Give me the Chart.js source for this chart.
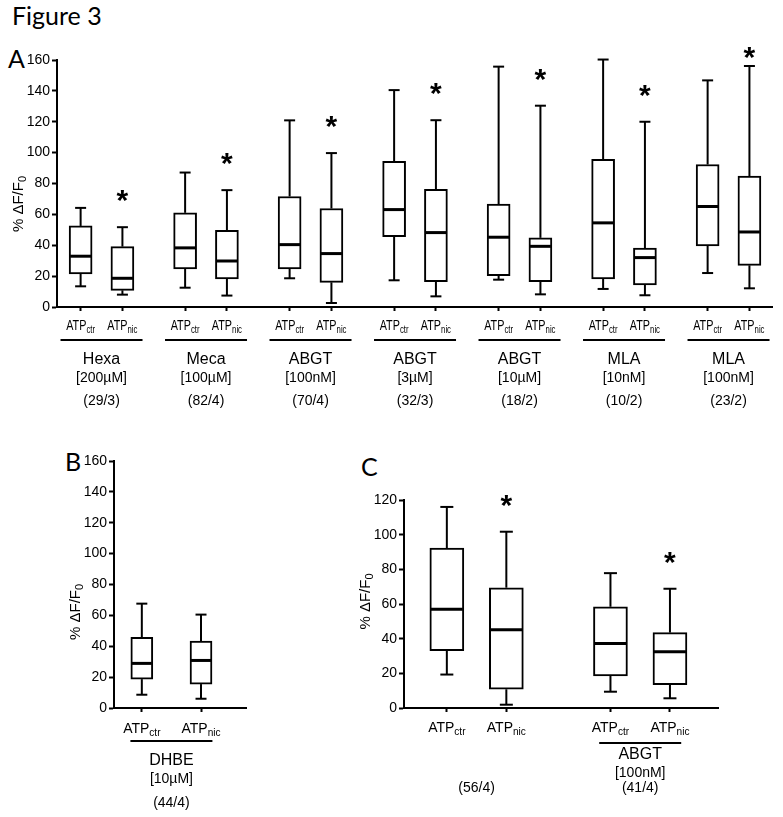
<!DOCTYPE html>
<html>
<head>
<meta charset="utf-8">
<script src="https://cdn.jsdelivr.net/npm/chart.js@4.4.1/dist/chart.umd.min.js"></script>
<style>
  body { margin: 0; background: #fff; width: 783px; height: 817px; position: relative; overflow: hidden; }
  canvas { position: absolute; }
  .lbl { position: absolute; font-family: Lato, 'Open Sans', sans-serif; font-size: 25px; line-height: 25px; color: #000; white-space: nowrap; }
</style>
</head>
<body>
<div class="lbl" style="left:12px;top:3px">Figure 3</div>
<div class="lbl" style="left:8px;top:46px">A</div>
<div class="lbl" style="left:65px;top:449px">B</div>
<div class="lbl" style="left:361px;top:454px">C</div>

<canvas id="chartA" width="783" height="380" style="left:0;top:40px"></canvas>
<canvas id="chartB" width="270" height="377" style="left:0;top:440px"></canvas>
<canvas id="chartC" width="443" height="377" style="left:340px;top:440px"></canvas>

<script>
'use strict';

const FONT = "'Liberation Sans', Arial, sans-serif";
const NARROW = "'Liberation Sans Narrow', 'Arial Narrow', 'Liberation Sans', Arial, sans-serif";

const conditions = ['ctr', 'nic'];

// box stats are [min, q1, median, q3, max] in % ΔF/F0

// --- panel A
const groupsA = ['Hexa', 'Meca', 'ABGT', 'ABGT', 'ABGT', 'MLA', 'MLA'];
const concA = ['[200µM]', '[100µM]', '[100nM]', '[3µM]', '[10µM]', '[10nM]', '[100nM]'];
const countsA = ['(29/3)', '(82/4)', '(70/4)', '(32/3)', '(18/2)', '(10/2)', '(23/2)'];
const ctrA = [
    [13.4, 21.4, 32.9, 52.5, 64.2],
    [12.5, 24.6, 38.3, 61.0, 87.1],
    [18.6, 24.6, 40.4, 71.6, 120.9],
    [17.3, 45.6, 63.1, 94.3, 140.5],
    [17.7, 20.3, 45.2, 66.6, 155.7],
    [11.7, 18.2, 54.5, 95.6, 160.3],
    [22.0, 39.6, 65.1, 92.3, 146.8],
];
const nicA = [
    [8.0, 10.8, 18.6, 39.1, 51.7],
    [7.4, 18.2, 29.8, 49.7, 75.7],
    [2.6, 16.0, 34.6, 63.8, 99.7],
    [6.9, 16.4, 48.2, 76.3, 121.0],
    [8.2, 16.4, 39.3, 44.8, 130.4],
    [7.6, 14.3, 32.0, 38.1, 120.0],
    [12.1, 27.0, 48.6, 84.8, 156.1],
];
const starsA = [true, true, true, true, true, true, true];
const yTicksA = [0, 20, 40, 60, 80, 100, 120, 140, 160];

// --- panel B
const groupsB = ['DHBE'];
const concB = ['[10µM]'];
const countsB = ['(44/4)'];
const ctrB = [[8.6, 18.7, 28.9, 45.7, 67.6]];
const nicB = [[6.0, 15.5, 30.8, 43.3, 60.5]];
const starsB = [false];
const yTicksB = [0, 20, 40, 60, 80, 100, 120, 140, 160];

// --- panel C
const groupsC = ['', 'ABGT'];
const concC = ['', '[100nM]'];
const countsC = ['(56/4)', '(41/4)'];
const ctrC = [
    [19.3, 33.1, 57.0, 92.3, 116.0],
    [9.4, 18.5, 37.2, 58.4, 77.8],
];
const nicC = [
    [1.9, 10.8, 45.1, 69.4, 101.7],
    [5.6, 13.5, 32.4, 43.5, 68.8],
];
const starsC = [true, true];
const yTicksC = [0, 20, 40, 60, 80, 100, 120];

function line(ctx, x1, y1, x2, y2) {
    ctx.beginPath();
    ctx.moveTo(x1, y1);
    ctx.lineTo(x2, y2);
    ctx.stroke();
}

// text with a subscript, centred (horizontally and on cap height) at 0,0
function subText(ctx, main, sub, size, subSize, sx) {
    ctx.save();
    ctx.scale(sx, 1);
    ctx.font = size + 'px ' + FONT;
    const w1 = ctx.measureText(main).width;
    ctx.font = subSize + 'px ' + FONT;
    const w2 = ctx.measureText(sub).width;
    const x0 = -(w1 + w2) / 2;
    const base = size * 0.36;
    ctx.textAlign = 'left';
    ctx.textBaseline = 'alphabetic';
    ctx.font = size + 'px ' + FONT;
    ctx.fillText(main, x0, base);
    ctx.font = subSize + 'px ' + FONT;
    ctx.fillText(sub, x0 + w1, base + 2.5);
    ctx.restore();
}

function centred(ctx, txt, cx, cy, size) {
    ctx.font = size + 'px ' + FONT;
    ctx.textAlign = 'center';
    ctx.textBaseline = 'alphabetic';
    ctx.fillText(txt, cx, cy + size * 0.36);
}

function buildPanel(id, p) {
    const boxes = [];
    p.groups.forEach((g, i) => {
        [p.ctr[i], p.nic[i]].forEach((s, j) => {
            boxes.push({
                x: p.groupX[i] + (j ? p.off : -p.off),
                stats: s,
                cond: conditions[j],
                star: j === 1 && p.stars[i],
            });
        });
    });

    const extras = {
        id: 'boxExtras',
        afterDatasetsDraw(chart) {
            const { ctx, chartArea: area, scales: { x, y } } = chart;
            ctx.save();
            ctx.strokeStyle = '#000';
            ctx.fillStyle = '#000';

            boxes.forEach(b => {
                const cx = x.getPixelForValue(b.x);
                const [mn, q1, md, q3, mx] = b.stats.map(v => y.getPixelForValue(v));
                ctx.lineWidth = 2;
                line(ctx, cx, q3, cx, mx);
                line(ctx, cx - p.cap / 2, mx, cx + p.cap / 2, mx);
                line(ctx, cx, q1, cx, mn);
                line(ctx, cx - p.cap / 2, mn, cx + p.cap / 2, mn);
                ctx.lineWidth = 3;
                line(ctx, cx - p.box / 2 + 1, md, cx + p.box / 2 - 1, md);

                if (b.star) {
                    const sy = Math.max(mx - 28, area.top - 4);
                    ctx.font = 'bold 30px ' + FONT;
                    ctx.textAlign = 'center';
                    ctx.textBaseline = 'alphabetic';
                    ctx.fillText('*', cx, sy + 11);
                }

                ctx.save();
                ctx.translate(cx, area.bottom + p.off_atp);
                subText(ctx, 'ATP', b.cond, p.atpSize, p.atpSize * 0.72, p.atpScale);
                ctx.restore();
            });

            p.groups.forEach((g, i) => {
                const gx = x.getPixelForValue(p.groupX[i]);
                if (g) {
                    ctx.lineWidth = 2;
                    line(ctx, gx - 41, area.bottom + p.off_line, gx + 41, area.bottom + p.off_line);
                    centred(ctx, g, gx, area.bottom + p.off_name, 16);
                    centred(ctx, p.conc[i], gx, area.bottom + p.off_conc, 14);
                }
                centred(ctx, p.counts[i], gx, area.bottom + p.off_n, 14);
            });

            // y axis title
            ctx.save();
            ctx.translate(area.left - 39, area.bottom - p.titleFrac * (area.bottom - area.top));
            ctx.rotate(-Math.PI / 2);
            subText(ctx, '% ΔF/F', '0', 15, 11, 1);
            ctx.restore();

            ctx.restore();
        }
    };

    return new Chart(document.getElementById(id), {
        type: 'bar',
        data: {
            datasets: [{
                data: boxes.map(b => ({ x: b.x, y: [b.stats[1], b.stats[3]] })),
                backgroundColor: '#fff',
                borderColor: '#000',
                borderWidth: 2,
                borderSkipped: false,
                barThickness: p.box,
            }]
        },
        options: {
            responsive: false,
            animation: false,
            events: [],
            layout: { padding: { top: p.padTop, right: p.padRight, left: 0, bottom: 0 } },
            plugins: { legend: { display: false }, tooltip: { enabled: false } },
            scales: {
                x: {
                    type: 'linear',
                    min: p.xMin,
                    max: p.xMax,
                    offset: false,
                    afterBuildTicks: s => { s.ticks = boxes.map(b => ({ value: b.x })); },
                    afterFit: s => { s.height = p.bottomH; },
                    ticks: { display: false },
                    grid: { offset: false, drawOnChartArea: false, drawTicks: true, tickLength: 4, tickWidth: 2, tickColor: '#000' },
                    border: { display: true, color: '#000', width: 2 },
                },
                y: {
                    min: p.yTicks[0],
                    max: p.yTicks[p.yTicks.length - 1],
                    afterBuildTicks: s => { s.ticks = p.yTicks.map(v => ({ value: v })); },
                    afterFit: s => { s.width = p.leftW; },
                    ticks: { color: '#000', padding: 2, font: { family: p.tickFont, size: p.tickSize } },
                    grid: { drawOnChartArea: false, drawTicks: true, tickLength: 5, tickWidth: 2, tickColor: '#000' },
                    border: { display: true, color: '#000', width: 2 },
                }
            }
        },
        plugins: [extras]
    });
}

buildPanel('chartA', {
    groups: groupsA, conc: concA, counts: countsA, ctr: ctrA, nic: nicA, stars: starsA, yTicks: yTicksA,
    groupX: [0, 1, 2, 3, 4, 5, 6], off: 0.2, xMin: -0.426, xMax: 6.416,
    box: 23, cap: 11, padTop: 20, padRight: 11, leftW: 57, bottomH: 113,
    tickFont: NARROW, tickSize: 14, atpSize: 15, atpScale: 0.72,
    off_atp: 18, off_line: 33, off_name: 51, off_conc: 70, off_n: 93, titleFrac: 0.417,
});

buildPanel('chartB', {
    groups: groupsB, conc: concB, counts: countsB, ctr: ctrB, nic: nicB, stars: starsB, yTicks: yTicksB,
    groupX: [0], off: 0.2, xMin: -0.388, xMax: 0.504,
    box: 22, cap: 11, padTop: 21, padRight: 24, leftW: 114, bottomH: 109,
    tickFont: FONT, tickSize: 14, atpSize: 14, atpScale: 1,
    off_atp: 20, off_line: 33, off_name: 51, off_conc: 70, off_n: 94, titleFrac: 0.389,
});

buildPanel('chartC', {
    groups: groupsC, conc: concC, counts: countsC, ctr: ctrC, nic: nicC, stars: starsC, yTicks: yTicksC,
    groupX: [0, 1.1], off: 0.2, xMin: -0.488, xMax: 1.623,
    box: 34, cap: 13, padTop: 60, padRight: 65, leftW: 64, bottomH: 109,
    tickFont: NARROW, tickSize: 14, atpSize: 14, atpScale: 1,
    off_atp: 19, off_line: 35, off_name: 45, off_conc: 64, off_n: 79, titleFrac: 0.512,
});
</script>
</body>
</html>
